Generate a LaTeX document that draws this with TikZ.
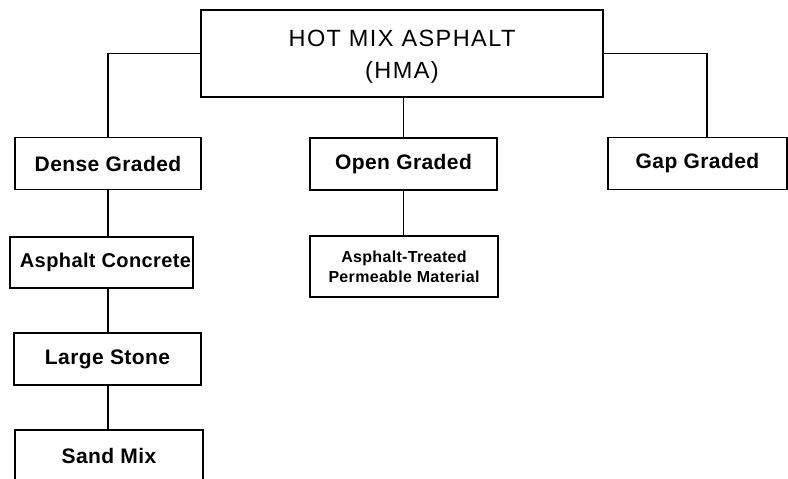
\documentclass[tikz,border=0pt]{standalone}
\usepackage{fontspec}
\setmainfont{Liberation Sans}
\newfontfamily\titlefont[LetterSpace=6]{Liberation Sans}
\newfontfamily\boxfont[LetterSpace=2]{Liberation Sans}
\usetikzlibrary{positioning}

\begin{document}
\begin{tikzpicture}[x=1pt,y=-1pt,
 box/.style={draw,line width=1.1pt,inner sep=0pt,align=center,minimum height=52pt,font=\boxfont\bfseries\fontsize{21}{24}\selectfont},
 link/.style={line width=1.1pt}]
\useasboundingbox (0,0) rectangle (788,479);
% top of the tree
\node[box,minimum width=402pt,minimum height=87pt,font=\titlefont\fontsize{23.5}{32}\selectfont] (hma) at (402,53.5) {\rule{0pt}{22pt}HOT MIX ASPHALT\\(HMA)};
% second level
\node[box,minimum width=186pt] (dense) at (108,163.5) {Dense Graded};
\node[box,minimum width=187pt] (open) at (403.5,164) {Open Graded};
\node[box,minimum width=179pt] (gap) at (697.5,163.5) {Gap Graded};
% dense graded branch
\node[box,minimum width=183pt,minimum height=51pt,font=\boxfont\bfseries\fontsize{20}{24}\selectfont] (concrete) at (101.5,262.5) {\hspace{8pt}Asphalt Concrete};
\node[box,minimum width=187pt] (stone) at (107.5,359) {Large Stone};
\node[box,minimum width=188pt] (sand) at (109,456) {Sand Mix};
% open graded branch
\node[box,minimum width=188pt,minimum height=61pt,font=\boxfont\bfseries\fontsize{16}{20}\selectfont] (atpm) at (404,266.5) {Asphalt-Treated\\Permeable Material};
\coordinate (gaptop) at (707,137);
\draw[link] (hma.west) -| (dense.north);
\draw[link] (hma.east) -| (gaptop);
\draw[link] (open.north |- hma.south) -- (open.north);
\draw[link] (open.south) -- (open.south |- atpm.north);
\draw[link] (dense.south) -- (dense.south |- concrete.north);
\draw[link] (dense.south |- concrete.south) -- (dense.south |- stone.north);
\draw[link] (dense.south |- stone.south) -- (dense.south |- sand.north);
\end{tikzpicture}
\end{document}
